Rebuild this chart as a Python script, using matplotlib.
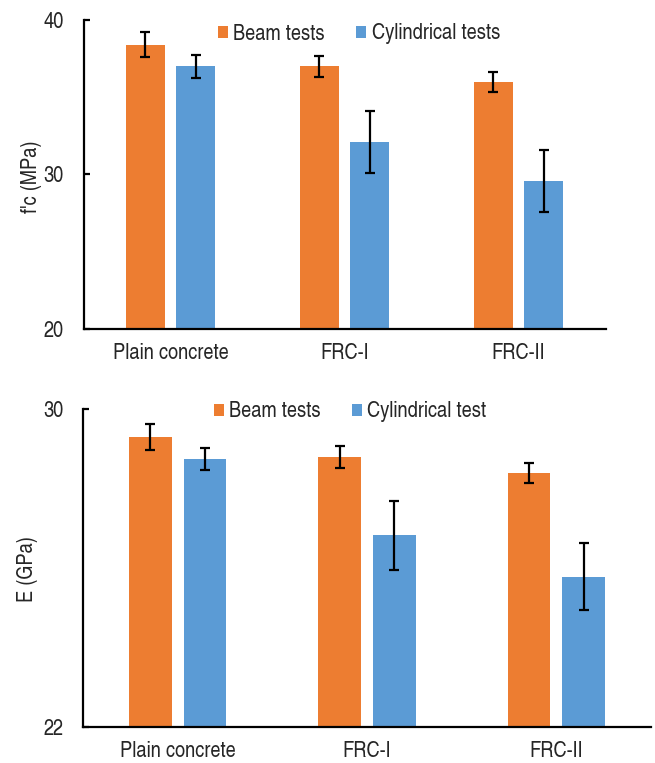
import matplotlib
matplotlib.use("Agg")
import matplotlib.pyplot as plt
import numpy as np
from matplotlib import font_manager

categories = ["Plain concrete", "FRC-I", "FRC-II"]

fc_beam = [38.4, 37.0, 36.0]
fc_beam_err = [0.8, 0.7, 0.65]
fc_cyl = [37.0, 32.1, 29.6]
fc_cyl_err = [0.75, 2.0, 2.0]

e_beam = [29.3, 28.8, 28.4]
e_beam_err = [0.33, 0.28, 0.25]
e_cyl = [28.75, 26.83, 25.79]
e_cyl_err = [0.27, 0.87, 0.84]

names = {f.name for f in font_manager.fontManager.ttflist}
fam = [f for f in ["TeX Gyre Heros Cn", "Liberation Sans Narrow", "Liberation Sans", "DejaVu Sans"]
       if f in names]
plt.rcParams['font.family'] = fam

ORANGE = "#ED7D31"
BLUE = "#5B9BD5"
TXT = "#262626"
FS = 16
W, H = 655, 763
fig = plt.figure(figsize=(W / 100, H / 100), dpi=100)


def px_axes(l, r, t, b):
    return fig.add_axes([l / W, (H - b) / H, (r - l) / W, (b - t) / H])


def draw(ax, beam, beam_err, cyl, cyl_err, ylim, yticks, labels):
    x = np.arange(len(categories))
    bw, off = 0.225, 0.145
    ekw = dict(ecolor="black", elinewidth=1.6, capsize=3.5, capthick=1.6)
    ax.bar(x - off, beam, bw, color=ORANGE, yerr=beam_err, error_kw=ekw, label=labels[0])
    ax.bar(x + off, cyl, bw, color=BLUE, yerr=cyl_err, error_kw=ekw, label=labels[1])
    ax.set_xlim(-0.5, len(categories) - 0.5)
    ax.set_ylim(*ylim)
    ax.set_yticks(yticks)
    ax.set_xticks(x)
    ax.set_xticklabels(categories)
    for s in ["top", "right"]:
        ax.spines[s].set_visible(False)
    for s in ["left", "bottom"]:
        ax.spines[s].set_linewidth(1.6)
        ax.spines[s].set_color("black")
    ax.tick_params(axis="y", direction="in", length=4, width=1.6, pad=14,
                   labelsize=FS, labelcolor=TXT)
    ax.tick_params(axis="x", length=0, pad=10, labelsize=FS, labelcolor=TXT)


ax1 = px_axes(83.5, 605.5, 20, 329)
draw(ax1, fc_beam, fc_beam_err, fc_cyl, fc_cyl_err, (20, 40), [20, 30, 40],
     ["Beam tests", "Cylindrical tests"])
ax2 = px_axes(83, 651, 409.3, 727.3)
draw(ax2, e_beam, e_beam_err, e_cyl, e_cyl_err, (22, 30), [22, 30],
     ["Beam tests", "Cylindrical test"])

fig.text(31 / W, 1 - 177 / H, "f'c (MPa)", rotation=90, ha="center", va="center",
         fontsize=FS, color=TXT)
fig.text(27.5 / W, 1 - 569 / H, "E (GPa)", rotation=90, ha="center", va="center",
         fontsize=FS, color=TXT)

lkw = dict(ncol=2, frameon=False, fontsize=FS, handlelength=0.45, handleheight=0.45,
           handletextpad=0.25, columnspacing=1.4, borderaxespad=0, borderpad=0)
leg1 = fig.legend(*ax1.get_legend_handles_labels(), loc="center",
                  bbox_to_anchor=(359 / W, 1 - 34 / H), **lkw)
leg2 = fig.legend(*ax2.get_legend_handles_labels(), loc="center",
                  bbox_to_anchor=(350 / W, 1 - 412 / H), **lkw)
for leg in (leg1, leg2):
    for t in leg.get_texts():
        t.set_color(TXT)

fig.savefig("out.png", dpi=100, facecolor="white")
